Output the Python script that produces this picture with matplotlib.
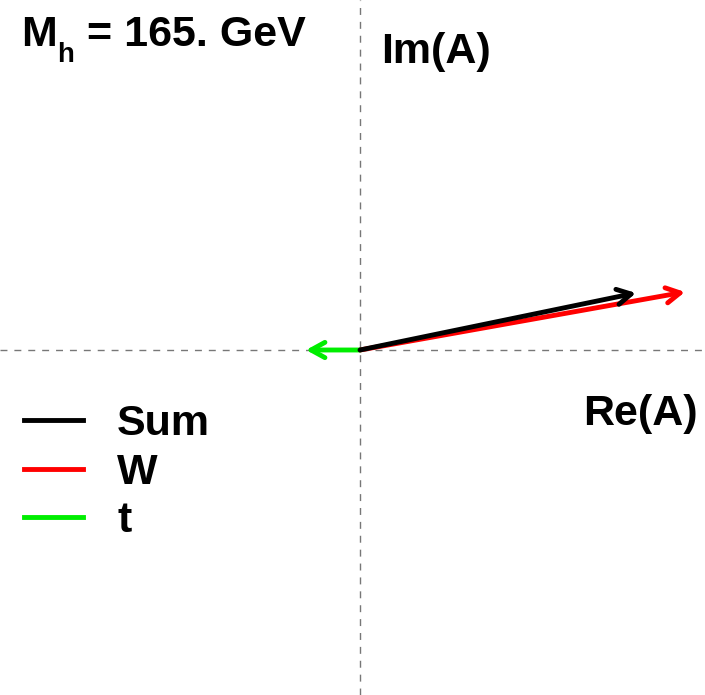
import matplotlib
matplotlib.use("Agg")
import matplotlib.pyplot as plt
from matplotlib.lines import Line2D

# amplitude contributions (arbitrary units)
labels = ["Sum", "W", "t"]
colors = ["black", "#ff0000", "#00ee00"]
re_parts = [5.52, 6.50, -1.08]
im_parts = [1.14, 1.16, 0.0]

FONT = "Liberation Sans"
plt.rcParams["font.family"] = [FONT, "DejaVu Sans"]
plt.rcParams["font.weight"] = "bold"

W, H = 705, 695
fig = plt.figure(figsize=(W / 100, H / 100), dpi=100)
ax = fig.add_axes([0, 0, 1, 1])
ax.set_xlim(-7.2, 6.9)
ax.set_ylim(-6.9, 7.0)
ax.axis("off")

ax.axhline(0, color="#777777", lw=1, ls=(0, (5, 5)))
ax.axvline(0, color="#777777", lw=1, ls=(0, (5, 5)))

# W and t first, sum on top
for i in [1, 2, 0]:
    ax.annotate("", xy=(re_parts[i], im_parts[i]), xytext=(0, 0),
                arrowprops=dict(arrowstyle="->,head_length=1.0,head_width=0.55",
                                mutation_scale=10, color=colors[i], lw=3.5,
                                shrinkA=0, shrinkB=0))

fs = 31
handles = [Line2D([], [], color=c, lw=3.5) for c in colors]
ax.legend(handles, labels, loc="upper left", bbox_to_anchor=(24 / W, 1 - 404 / H),
          frameon=False, fontsize=fs, handlelength=1.37, handletextpad=0.79,
          labelspacing=0.2, borderaxespad=0, borderpad=0)

# image-pixel helper: x from left, y from top (baseline)
def px(x, y):
    return x / W, 1 - y / H

ax.text(*px(21, 46), "M", transform=ax.transAxes, fontsize=fs, va="baseline")
ax.text(*px(57, 62), "h", transform=ax.transAxes, fontsize=20, va="baseline")
ax.text(*px(87, 46), "= 165. GeV", transform=ax.transAxes, fontsize=fs, va="baseline")
ax.text(*px(381, 63), "Im(A)", transform=ax.transAxes, fontsize=fs, va="baseline")
ax.text(*px(583, 425), "Re(A)", transform=ax.transAxes, fontsize=fs, va="baseline")

plt.savefig("out.png", dpi=100)
plt.close()
